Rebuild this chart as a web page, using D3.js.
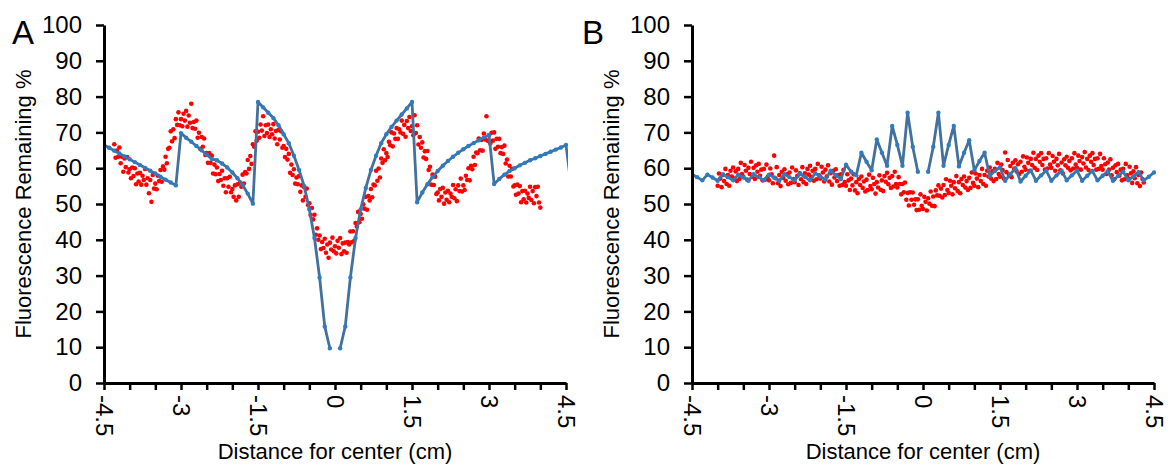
<!DOCTYPE html>
<html>
<head>
<meta charset="utf-8">
<script src="https://cdn.jsdelivr.net/npm/d3@7"></script>
<style>
  body { margin: 0; background: #fff; }
  svg { display: block; font-family: "Liberation Sans", Arial, sans-serif; }
</style>
</head>
<body>
<svg width="1172" height="465"></svg>
<script>
// axis ticks
const xTicks = [-4.5, -4, -3.5, -3, -2.5, -2, -1.5, -1, -0.5, 0, 0.5, 1, 1.5, 2, 2.5, 3, 3.5, 4, 4.5];
const xLabelTicks = [-4.5, -3, -1.5, 0, 1.5, 3, 4.5];
const yTicks = [0, 10, 20, 30, 40, 50, 60, 70, 80, 90, 100];

// model curves (blue), sampled every 0.1 cm; left half starts at -4.5, right half at 0.1
const blueStep = 0.1;
const blueA_left = [
  66.5, 65.7, 64.9, 64.1, 63.3, 62.5, 61.7, 60.9, 60.1, 59.3, 58.5, 57.6, 56.8, 56.0, 55.2,
  69.8, 68.5, 67.4, 66.2, 65.0, 63.8, 62.6, 62.2, 61.3, 60.2, 58.8, 57.2, 55.3, 52.9, 50.1,
  78.5, 77.0, 75.5, 74.0, 72.0, 69.5, 67.0, 63.5, 59.5, 55.0, 48.5, 40.5, 29.5, 15.8, 9.7
];
const blueA_right = [
  9.7, 15.8, 29.5, 40.5, 48.5, 54.5, 59.5, 63.5, 67.0, 69.5, 71.5, 73.3, 75.0, 76.7, 78.5,
  50.5, 53.2, 55.5, 57.5, 59.2, 60.7, 62.0, 63.2, 64.3, 65.3, 66.2, 67.0, 67.8, 68.6, 69.3,
  55.6, 57.0, 58.2, 59.2, 60.0, 60.8, 61.5, 62.2, 62.8, 63.4, 64.0, 64.6, 65.2, 65.8, 66.5,
  55.0
];
const blueB_left = [
  58.3, 57.5, 56.6, 58.2, 57.4, 56.5, 58.3, 57.5, 56.6, 58.2, 57.4, 56.5, 58.3, 57.5, 56.6,
  58.2, 57.4, 56.5, 58.3, 57.5, 56.6, 58.4, 57.6, 56.6, 58.6, 57.7, 56.8, 59.3, 58.1, 57.0,
  61.0, 59.0, 58.0, 64.3, 61.8, 59.4, 68.0, 64.3, 60.7, 71.8, 66.5, 60.7, 75.5, 66.0, 59.0
];
const blueB_right = [
  59.0, 66.0, 75.5, 60.7, 66.5, 71.8, 60.5, 64.3, 67.8, 59.4, 62.0, 64.3, 57.8, 59.2, 60.3,
  56.5, 58.3, 60.0, 56.3, 57.9, 59.4, 56.5, 58.0, 59.3, 56.5, 58.0, 59.3, 56.6, 58.0, 59.3,
  56.5, 57.9, 59.2, 56.6, 57.9, 59.1, 56.5, 57.8, 59.0, 56.6, 57.7, 58.9, 56.6, 57.6, 58.8
];

// measured fluorescence (red), sampled every 0.025 cm
const redStep = 0.025;
const redA_start = -4.3;
const redA = [
  66.7, 62.9, 64.9, 63.2, 65.8, 61.4, 63.2, 59.0, 62.7, 60.3, 63.1, 58.8, 59.7, 57.2, 60.2, 57.8, 60.0, 55.5, 58.5, 56.3,
  58.7, 55.4, 57.9, 56.7, 59.8, 55.4, 57.2, 53.0, 56.7, 50.6, 58.1, 54.3, 55.7, 54.1, 57.9, 56.4, 59.5, 56.2, 60.5, 59.6,
  63.2, 61.4, 65.4, 65.7, 70.3, 67.5, 70.9, 68.4, 73.7, 72.1, 75.6, 72.0, 73.7, 71.7, 75.2, 73.3, 76.0, 71.6, 74.7, 72.7,
  78.0, 71.2, 72.9, 71.0, 73.3, 68.5, 69.9, 65.4, 68.7, 66.0, 68.3, 63.7, 64.2, 61.5, 64.2, 61.5, 63.5, 58.5, 61.0, 58.3,
  60.2, 56.4, 58.4, 56.7, 59.3, 55.1, 57.2, 53.3, 57.2, 54.8, 57.6, 53.3, 54.2, 52.0, 55.2, 51.0, 55.5, 52.0, 56.0, 54.8,
  58.2, 55.7, 58.9, 58.5, 62.3, 59.8, 63.4, 61.2, 66.7, 66.0, 70.3, 67.7, 70.2, 68.5, 72.2, 70.5, 74.5, 69.0, 72.0, 69.8,
  72.2, 68.7, 70.9, 69.5, 72.3, 68.3, 70.4, 66.7, 70.7, 68.0, 70.3, 65.7, 66.2, 63.1, 65.4, 62.4, 64.0, 58.7, 61.0, 58.1,
  59.7, 55.7, 57.4, 55.5, 57.8, 53.4, 55.2, 51.0, 54.7, 52.0, 54.3, 49.7, 50.2, 46.9, 48.9, 45.7, 47.0, 41.4, 43.2, 40.0,
  41.2, 37.4, 39.4, 37.7, 40.3, 36.4, 38.7, 35.0, 39.2, 37.3, 40.6, 36.8, 38.2, 36.2, 39.7, 37.8, 40.5, 36.0, 39.0, 36.8,
  39.2, 36.4, 39.4, 38.7, 42.3, 39.3, 42.4, 39.7, 44.7, 43.7, 47.8, 44.9, 47.2, 45.9, 49.9, 48.7, 52.0, 48.4, 52.2, 51.0,
  54.2, 51.9, 55.4, 55.2, 59.3, 56.5, 59.9, 57.4, 62.7, 61.5, 65.3, 62.2, 64.2, 63.1, 67.4, 66.4, 70.0, 66.1, 69.7, 68.2,
  71.2, 68.2, 70.9, 70.0, 73.3, 69.6, 72.1, 68.8, 73.2, 71.2, 74.3, 70.4, 71.7, 69.2, 74.8, 69.8, 72.0, 66.6, 68.7, 65.7,
  67.2, 63.0, 64.7, 62.6, 64.8, 59.5, 60.4, 55.4, 58.2, 55.3, 57.6, 52.8, 53.2, 51.0, 54.2, 52.0, 54.5, 50.1, 53.2, 51.2,
  53.7, 50.5, 52.9, 52.0, 55.3, 51.6, 54.1, 50.8, 55.2, 53.6, 57.1, 53.5, 55.2, 53.9, 57.9, 56.7, 60.0, 56.6, 60.7, 59.7,
  63.2, 60.9, 64.4, 64.2, 68.3, 65.0, 67.9, 64.9, 69.7, 68.0, 74.5, 67.7, 69.2, 66.9, 69.9, 67.7, 70.0, 65.4, 68.2, 66.0,
  68.2, 64.2, 65.9, 64.0, 66.3, 61.3, 62.4, 57.7, 60.7, 57.7, 59.8, 54.9, 55.2, 52.6, 55.4, 52.9, 55.0, 50.5, 53.6, 51.3,
  53.7, 50.4, 52.9, 51.7, 54.8, 51.1, 53.6, 50.2, 54.7, 52.2, 54.8, 50.4, 49.0
];
const redB_start = -4.0;
const redB = [
  55.1, 58.5, 57.1, 54.7, 58.1, 56.4, 59.8, 55.6, 58.1, 55.1, 59.3, 57.7, 60.2, 57.1, 59.1, 56.4, 59.8, 57.0, 61.5, 58.4,
  57.6, 60.9, 59.3, 56.8, 60.1, 58.4, 61.8, 57.6, 60.1, 57.0, 60.8, 59.0, 61.2, 57.9, 59.6, 56.6, 59.8, 56.8, 61.0, 57.6,
  56.6, 59.9, 58.3, 55.8, 63.5, 57.2, 60.3, 55.8, 58.1, 55.0, 59.0, 57.3, 59.7, 56.5, 58.3, 55.5, 58.8, 55.9, 60.2, 57.0,
  56.1, 59.4, 57.8, 55.3, 58.6, 56.9, 60.3, 56.1, 58.6, 55.6, 59.8, 58.2, 60.7, 57.5, 59.3, 56.5, 59.8, 56.9, 61.2, 58.0,
  57.1, 60.4, 58.8, 56.3, 59.6, 57.7, 60.8, 56.3, 58.6, 55.4, 59.3, 57.4, 59.7, 56.4, 58.1, 55.1, 58.3, 55.3, 59.5, 56.1,
  55.1, 58.3, 56.6, 53.9, 57.1, 55.2, 58.3, 53.8, 56.1, 53.0, 57.0, 55.3, 57.7, 54.5, 56.3, 53.5, 56.8, 53.9, 58.2, 55.0,
  54.1, 57.3, 55.6, 52.9, 56.1, 54.6, 58.0, 54.0, 56.6, 53.6, 57.8, 56.2, 58.7, 55.5, 57.3, 54.5, 57.8, 54.9, 59.0, 55.6,
  54.6, 57.5, 55.6, 52.7, 55.6, 53.3, 56.0, 51.2, 53.1, 49.6, 53.3, 51.2, 53.2, 49.8, 51.3, 48.3, 51.3, 48.4, 52.7, 49.5,
  48.6, 52.0, 50.6, 48.2, 51.6, 50.1, 53.5, 49.5, 52.1, 49.4, 53.8, 52.4, 55.2, 52.3, 54.3, 51.8, 55.3, 52.5, 56.9, 53.9,
  53.1, 56.5, 55.1, 52.7, 56.1, 54.4, 57.8, 53.6, 56.1, 53.0, 57.0, 55.3, 57.7, 54.6, 56.4, 53.9, 57.3, 54.5, 58.8, 55.9,
  55.1, 58.5, 57.1, 54.7, 58.1, 56.4, 59.8, 55.6, 58.1, 55.1, 59.3, 57.7, 60.2, 57.1, 59.1, 56.4, 59.8, 57.0, 61.5, 58.4,
  57.6, 61.0, 59.5, 57.1, 64.4, 58.9, 62.3, 58.1, 60.6, 57.5, 61.5, 59.8, 62.2, 59.1, 61.1, 58.4, 61.8, 59.0, 63.3, 60.4,
  59.6, 63.0, 61.5, 59.2, 62.6, 60.9, 64.3, 60.1, 62.6, 59.5, 63.5, 61.8, 64.2, 60.9, 62.6, 59.6, 62.8, 59.9, 64.2, 61.0,
  60.1, 63.4, 61.8, 59.3, 62.6, 60.8, 64.0, 59.4, 61.6, 58.5, 62.5, 60.8, 63.2, 60.1, 62.0, 59.4, 62.8, 59.9, 64.2, 61.0,
  60.1, 63.5, 62.0, 59.6, 63.1, 61.3, 64.5, 60.2, 62.6, 59.5, 63.5, 61.8, 64.2, 60.9, 62.6, 59.6, 62.8, 59.8, 64.0, 60.6,
  59.6, 62.8, 61.1, 58.4, 61.6, 59.6, 62.5, 58.0, 60.1, 56.9, 60.8, 58.9, 61.2, 57.9, 59.6, 56.6, 59.8, 56.9, 61.2, 58.0,
  57.1, 60.4, 58.6, 55.9, 59.1, 57.2, 60.3, 55.8, 58.1, 55.0, 58.8, 57.0, 56.0
];

const svg = d3.select("svg");
const plotTop = 25;
const plotBottom = 383;
const fontFamily = '"Liberation Sans", Arial, sans-serif';

function toPoints(values, start, step) {
  return values.map((v, i) => ({ x: start + i * step, y: v }));
}

function drawPanel(id, letter, letterX, left, right, blueLeft, blueRight, red, redStart) {
  const x = d3.scaleLinear().domain([-4.5, 4.5]).range([left, right]);
  const y = d3.scaleLinear().domain([0, 100]).range([plotBottom, plotTop]);
  const g = svg.append("g");

  g.append("clipPath").attr("id", "clip" + id)
    .append("rect")
    .attr("x", left).attr("y", 0)
    .attr("width", right - left + 2).attr("height", 465);

  const plot = g.append("g").attr("clip-path", `url(#clip${id})`);

  // red measurements
  plot.append("g")
    .selectAll("circle")
    .data(toPoints(red, redStart, redStep))
    .enter()
    .append("circle")
    .attr("cx", d => x(d.x))
    .attr("cy", d => y(d.y))
    .attr("r", 2.3)
    .attr("fill", "#ff0000");

  // blue model, two halves with a gap at the center
  const line = d3.line().x(d => x(d.x)).y(d => y(d.y));
  [toPoints(blueLeft, -4.5, blueStep), toPoints(blueRight, 0.1, blueStep)].forEach(pts => {
    plot.append("path")
      .attr("d", line(pts))
      .attr("fill", "none")
      .attr("stroke", "#41719c")
      .attr("stroke-width", 2.8)
      .attr("stroke-linejoin", "round");
    plot.append("g")
      .selectAll("circle")
      .data(pts)
      .enter()
      .append("circle")
      .attr("cx", d => x(d.x))
      .attr("cy", d => y(d.y))
      .attr("r", 2.2)
      .attr("fill", "#2e7bc4");
  });

  // axes
  const yAxis = g.append("g")
    .attr("transform", `translate(${left},0)`)
    .call(d3.axisLeft(y).tickValues(yTicks).tickSize(8).tickSizeOuter(0).tickPadding(14).tickFormat(d => String(d)));

  const xAxis = g.append("g")
    .attr("transform", `translate(0,${plotBottom})`)
    .call(d3.axisBottom(x).tickValues(xTicks).tickSize(7).tickSizeOuter(0)
      .tickFormat(d => xLabelTicks.includes(d) ? String(d) : ""));

  xAxis.selectAll("text")
    .attr("transform", "rotate(90)")
    .attr("x", 12)
    .attr("y", 0)
    .attr("dy", "0.35em")
    .style("text-anchor", "start");

  [yAxis, xAxis].forEach(ax => {
    ax.select(".domain").attr("stroke", "#000").attr("stroke-width", 3);
    ax.selectAll(".tick line").attr("stroke", "#000").attr("stroke-width", 2.5);
    ax.selectAll("text").attr("font-size", 24).attr("fill", "#000")
      .attr("font-family", fontFamily);
  });

  g.append("text")
    .attr("transform", `translate(${left - 81},${(plotTop + plotBottom) / 2}) rotate(-90)`)
    .attr("text-anchor", "middle")
    .attr("dy", "0.35em")
    .attr("font-size", 22)
    .text("Fluorescence Remaining %");

  g.append("text")
    .attr("x", (left + right) / 2)
    .attr("y", 459)
    .attr("text-anchor", "middle")
    .attr("font-size", 22)
    .text("Distance for center (cm)");

  g.append("text")
    .attr("x", letterX)
    .attr("y", 44)
    .attr("font-size", 33)
    .text(letter);
}

drawPanel("A", "A", 12, 104, 566, blueA_left, blueA_right, redA, redA_start);
drawPanel("B", "B", 582, 692, 1154, blueB_left, blueB_right, redB, redB_start);
</script>
</body>
</html>
